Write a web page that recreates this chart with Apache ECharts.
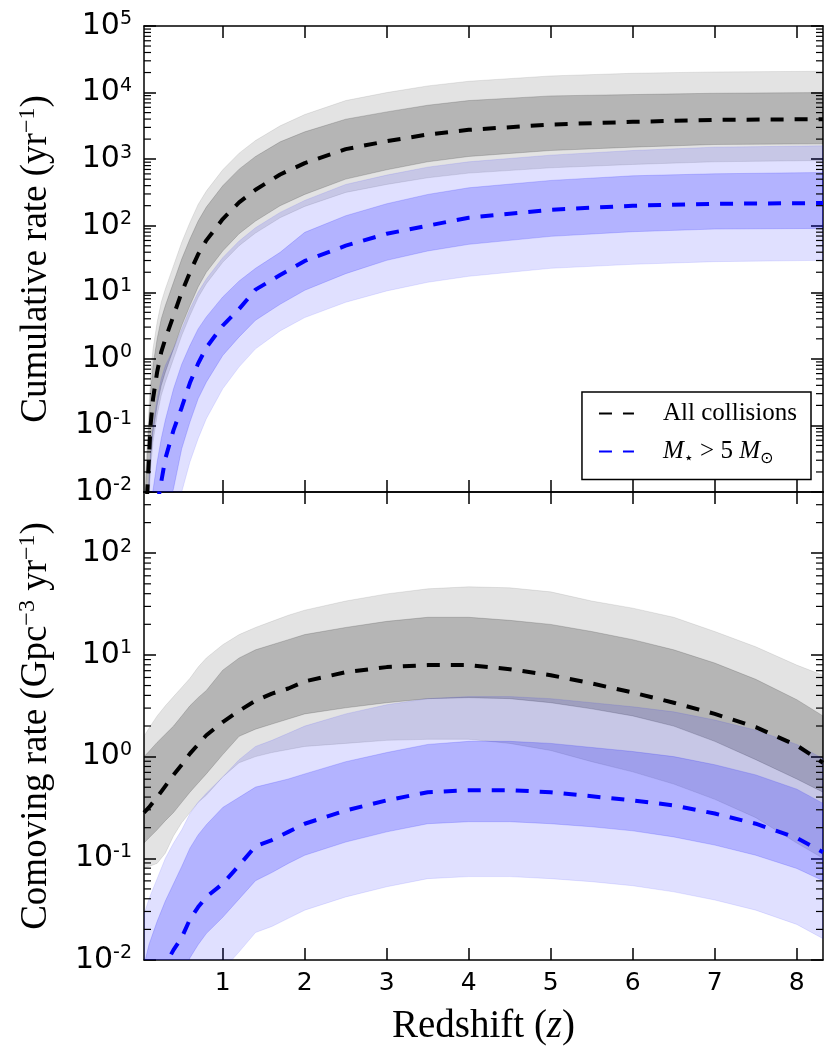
<!DOCTYPE html>
<html>
<head>
<meta charset="utf-8">
<script src="https://cdn.jsdelivr.net/npm/echarts@6/dist/echarts.min.js"></script>
<style>
html, body { margin: 0; padding: 0; background: #fff; }
#chart { width: 836px; height: 1057px; }
</style>
</head>
<body>
<div id="chart"></div>
<script>

// top panel: cumulative rate (yr^-1)
var zTop = [0.04, 0.08, 0.1, 0.12, 0.15, 0.2, 0.25, 0.3, 0.4, 0.5, 0.6, 0.7, 0.8, 1.0, 1.2, 1.4, 1.7, 2.0, 2.5, 3.0, 3.5, 4.0, 5.0, 6.0, 7.0, 8.32]
var allMedTop     = [-2.8, -2.0, -1.5, -1.0, -0.6, -0.2, 0.1, 0.3, 0.65, 1.0, 1.3, 1.57, 1.78, 2.1, 2.35, 2.54, 2.77, 2.94, 3.15, 3.27, 3.37, 3.44, 3.52, 3.56, 3.59, 3.6]
var allDarkHiTop  = [-2.3, -1.5, -1.0, -0.5, -0.1, 0.3, 0.6, 0.8, 1.15, 1.5, 1.8, 2.07, 2.28, 2.6, 2.85, 3.04, 3.26, 3.41, 3.6, 3.71, 3.81, 3.88, 3.95, 3.97, 3.99, 4.0]
var allDarkLoTop  = [-3.3, -2.5, -2.0, -1.5, -1.1, -0.7, -0.4, -0.2, 0.15, 0.5, 0.8, 1.08, 1.3, 1.62, 1.88, 2.07, 2.3, 2.47, 2.7, 2.84, 2.96, 3.04, 3.13, 3.18, 3.22, 3.23]
var allLightHiTop = [-2.05, -1.25, -0.75, -0.25, 0.15, 0.55, 0.85, 1.05, 1.4, 1.75, 2.05, 2.32, 2.52, 2.84, 3.09, 3.28, 3.5, 3.67, 3.88, 4.0, 4.1, 4.17, 4.25, 4.29, 4.31, 4.32]
var allLightLoTop = [-3.45, -2.65, -2.15, -1.65, -1.25, -0.85, -0.55, -0.35, 0.0, 0.35, 0.65, 0.92, 1.13, 1.45, 1.7, 1.89, 2.12, 2.29, 2.5, 2.62, 2.72, 2.79, 2.87, 2.92, 2.96, 2.98]
var bigMedTop     = [-4.7, -3.8, -3.4, -3.0, -2.6, -2.2, -1.85, -1.5, -1.07, -0.73, -0.36, -0.07, 0.17, 0.5, 0.75, 1.04, 1.26, 1.47, 1.7, 1.88, 2.0, 2.12, 2.24, 2.3, 2.33, 2.34]
var bigDarkHiTop  = [-3.2, -2.6, -2.35, -2.15, -1.97, -1.55, -1.2, -0.92, -0.45, -0.08, 0.2, 0.45, 0.63, 0.93, 1.17, 1.36, 1.6, 1.9, 2.15, 2.33, 2.47, 2.57, 2.68, 2.75, 2.78, 2.8]
var bigDarkLoTop  = [-6.2, -5.3, -4.9, -4.5, -4.0, -3.3, -2.8, -2.4, -1.95, -1.35, -0.95, -0.6, -0.35, 0.05, 0.33, 0.58, 0.82, 1.03, 1.28, 1.48, 1.62, 1.72, 1.84, 1.91, 1.95, 1.96]
var bigLightHiTop = [-2.8, -2.2, -1.8, -1.4, -1.0, -0.6, -0.3, -0.1, 0.15, 0.45, 0.75, 1.0, 1.2, 1.52, 1.77, 1.97, 2.2, 2.38, 2.62, 2.76, 2.88, 2.96, 3.06, 3.13, 3.18, 3.2]
var bigLightLoTop = [-7.2, -6.3, -5.8, -5.3, -4.7, -4.0, -3.5, -3.1, -2.7, -2.0, -1.55, -1.2, -0.9, -0.45, -0.12, 0.15, 0.42, 0.62, 0.85, 1.02, 1.15, 1.24, 1.36, 1.42, 1.46, 1.48]

// bottom panel: comoving rate (Gpc^-3 yr^-1)
var zBot = [0.04, 0.1, 0.2, 0.3, 0.4, 0.5, 0.6, 0.7, 0.8, 1.0, 1.2, 1.4, 1.6, 1.8, 2.0, 2.5, 3.0, 3.5, 4.0, 4.5, 5.0, 5.5, 6.0, 6.5, 7.0, 7.5, 8.0, 8.32]
var allMedBot     = [-0.55, -0.5, -0.4, -0.29, -0.18, -0.08, 0.03, 0.12, 0.21, 0.34, 0.45, 0.55, 0.62, 0.67, 0.74, 0.83, 0.88, 0.9, 0.9, 0.86, 0.8, 0.72, 0.63, 0.53, 0.42, 0.29, 0.11, -0.06]
var allDarkHiBot  = [0.0, 0.05, 0.14, 0.22, 0.3, 0.4, 0.5, 0.58, 0.65, 0.85, 0.97, 1.05, 1.1, 1.15, 1.2, 1.27, 1.33, 1.37, 1.37, 1.34, 1.3, 1.23, 1.15, 1.05, 0.92, 0.76, 0.56, 0.4]
var allDarkLoBot  = [-0.85, -0.8, -0.72, -0.63, -0.55, -0.45, -0.35, -0.26, -0.17, 0.02, 0.2, 0.27, 0.32, 0.37, 0.42, 0.48, 0.53, 0.57, 0.58, 0.57, 0.53, 0.47, 0.4, 0.3, 0.15, -0.03, -0.22, -0.35]
var allLightHiBot = [0.2, 0.28, 0.4, 0.5, 0.59, 0.68, 0.77, 0.88, 0.97, 1.1, 1.2, 1.27, 1.33, 1.39, 1.44, 1.53, 1.6, 1.65, 1.67, 1.66, 1.62, 1.53, 1.46, 1.37, 1.23, 1.08, 0.9, 0.8]
var allLightLoBot = [-1.1, -1.08, -1.05, -0.95, -0.78, -0.65, -0.55, -0.45, -0.38, -0.2, -0.06, 0.0, 0.04, 0.07, 0.1, 0.13, 0.16, 0.17, 0.17, 0.13, 0.06, -0.05, -0.15, -0.27, -0.42, -0.6, -0.85, -1.0]
var bigMedBot     = [-2.6, -2.45, -2.25, -2.05, -1.9, -1.78, -1.6, -1.48, -1.38, -1.25, -1.07, -0.88, -0.82, -0.74, -0.66, -0.53, -0.43, -0.35, -0.33, -0.33, -0.35, -0.39, -0.43, -0.48, -0.56, -0.66, -0.8, -0.94]
var bigDarkHiBot  = [-2.05, -1.85, -1.62, -1.42, -1.25, -1.08, -0.9, -0.77, -0.67, -0.5, -0.4, -0.3, -0.26, -0.22, -0.17, -0.05, 0.04, 0.12, 0.15, 0.15, 0.13, 0.09, 0.05, 0.0, -0.08, -0.18, -0.32, -0.46]
var bigDarkLoBot  = [-3.0, -2.85, -2.65, -2.45, -2.3, -2.15, -1.98, -1.85, -1.74, -1.58, -1.4, -1.22, -1.14, -1.05, -0.97, -0.84, -0.74, -0.66, -0.64, -0.64, -0.66, -0.69, -0.73, -0.79, -0.87, -0.97, -1.1, -1.22]
var bigLightHiBot = [-1.55, -1.4, -1.2, -1.0, -0.85, -0.72, -0.56, -0.45, -0.36, -0.2, -0.03, 0.1, 0.16, 0.23, 0.3, 0.42, 0.51, 0.57, 0.59, 0.59, 0.57, 0.53, 0.49, 0.44, 0.36, 0.26, 0.12, -0.02]
var bigLightLoBot = [-3.5, -3.35, -3.15, -2.95, -2.8, -2.66, -2.48, -2.36, -2.25, -2.1, -1.92, -1.73, -1.67, -1.59, -1.51, -1.38, -1.28, -1.2, -1.18, -1.18, -1.2, -1.23, -1.27, -1.33, -1.41, -1.51, -1.65, -1.79]

var xTicks = [1, 2, 3, 4, 5, 6, 7, 8]
var allName = 'All collisions'
var bigName = 'M⋆ > 5 M⊙'

var serif = 'Liberation Serif'
var sans = 'DejaVu Sans'

function pairs(z, e) {
    var out = []
    for (var i = 0; i < z.length; i++) out.push([z[i], Math.pow(10, e[i])])
    return out
}

// filled band between two curves, drawn as one polygon through the axes' scales
function band(ax, z, lo, hi, color) {
    var data = []
    for (var i = 0; i < z.length; i++) data.push([z[i], Math.pow(10, lo[i]), Math.pow(10, hi[i])])
    return {
        type: 'custom', xAxisIndex: ax, yAxisIndex: ax, silent: true, clip: true,
        encode: {x: 0, y: [1, 2]},
        data: data,
        renderItem: function (params, api) {
            if (params.dataIndex !== 0) return
            var upper = [], lower = []
            for (var i = 0; i < data.length; i++) {
                upper.push(api.coord([data[i][0], data[i][2]]))
                lower.unshift(api.coord([data[i][0], data[i][1]]))
            }
            return {
                type: 'polygon',
                shape: {points: upper.concat(lower)},
                style: {fill: color, stroke: color, lineWidth: 0.8}
            }
        }
    }
}

function median(name, ax, z, e, color) {
    return {
        name: name, type: 'line', xAxisIndex: ax, yAxisIndex: ax,
        data: pairs(z, e), symbol: 'none', z: 5,
        itemStyle: {color: color},
        lineStyle: {color: color, width: 4, type: [13, 11]}
    }
}

// minor ticks at 2..9 x 10^n, as matplotlib puts them on a log axis
function minorValues(lo, hi, max) {
    var out = []
    for (var e = lo; e < hi; e++) {
        for (var k = 2; k < 10; k++) {
            var v = k * Math.pow(10, e)
            if (v < max) out.push([1, v])
        }
    }
    return out
}

function minorTicks(ax, data) {
    return {
        type: 'custom', xAxisIndex: ax, yAxisIndex: ax, silent: true, z: 10,
        data: data,
        renderItem: function (params, api) {
            var y = api.coord([1, api.value(1)])[1]
            var cs = params.coordSys
            var st = {stroke: '#000', lineWidth: 1.2}
            return {
                type: 'group', children: [
                    {type: 'line', shape: {x1: cs.x, y1: y, x2: cs.x + 7, y2: y}, style: st},
                    {type: 'line', shape: {x1: cs.x + cs.width - 7, y1: y, x2: cs.x + cs.width, y2: y}, style: st}
                ]
            }
        }
    }
}

function logLabel(v) {
    var l = Math.log10(v)
    var e = Math.round(l)
    if (Math.abs(l - e) > 1e-6) return ''
    return '{b|10}{s|' + e + '}'
}

var axisLineStyle = {color: '#000', width: 1.5}

function xAx(grid, pos, withLabels) {
    return {
        type: 'value', gridIndex: grid, position: pos, min: 0.04, max: 8.32,
        splitLine: {show: false},
        axisLine: {show: true, onZero: false, lineStyle: axisLineStyle},
        axisTick: {show: true, inside: true, length: 12, customValues: xTicks, lineStyle: axisLineStyle},
        axisLabel: {show: withLabels, customValues: xTicks, margin: 11, fontSize: 25, fontFamily: sans, color: '#000'}
    }
}

function yAx(grid, pos, max, split, withLabels) {
    return {
        type: 'log', logBase: 10, gridIndex: grid, position: pos, min: 0.01, max: max, splitNumber: split,
        splitLine: {show: false},
        axisLine: {show: true, onZero: false, lineStyle: axisLineStyle},
        axisTick: {show: true, inside: true, length: 12, lineStyle: axisLineStyle},
        axisLabel: {
            show: withLabels, margin: 12, formatter: logLabel,
            rich: {
                b: {fontSize: 30, fontFamily: sans, color: '#000', lineHeight: 32},
                s: {fontSize: 19, fontFamily: sans, color: '#000', lineHeight: 17, verticalAlign: 'top'}
            }
        }
    }
}

var nameRich = {
    t: {fontSize: 37, fontFamily: serif, color: '#000', lineHeight: 40},
    s: {fontSize: 24, fontFamily: serif, color: '#000', lineHeight: 22, verticalAlign: 'top'},
    i: {fontSize: 37, fontFamily: serif, fontStyle: 'italic', color: '#000', lineHeight: 40}
}

var xAxes = [xAx(0, 'bottom', false), xAx(0, 'top', false), xAx(1, 'bottom', true), xAx(1, 'top', false)]
xAxes[2].name = '{t|Redshift (}{i|z}{t|)}'
xAxes[2].nameLocation = 'middle'
xAxes[2].nameGap = 46
xAxes[2].nameTextStyle = {
    rich: {
        t: {fontSize: 39, fontFamily: serif, color: '#000', lineHeight: 42},
        i: {fontSize: 39, fontFamily: serif, fontStyle: 'italic', color: '#000', lineHeight: 42}
    }
}

var yAxes = [yAx(0, 'left', 1e5, 7, true), yAx(0, 'right', 1e5, 7, false), yAx(1, 'left', 400, 5, true), yAx(1, 'right', 400, 5, false)]
yAxes[0].name = '{t|Cumulative rate (yr}{s|−1}{t|)}'
yAxes[2].name = '{t|Comoving rate (Gpc}{s|−3}{t| yr}{s|−1}{t|)}'
;[0, 2].forEach(function (i) {
    yAxes[i].nameLocation = 'middle'
    yAxes[i].nameRotate = 90
    yAxes[i].nameGap = 88
    yAxes[i].nameTextStyle = {rich: nameRich}
})

var grayLight = 'rgba(0,0,0,0.11)'
var grayDark = 'rgba(0,0,0,0.2)'
var blueLight = 'rgba(0,0,255,0.12)'
var blueDark = 'rgba(0,0,255,0.2)'

var series = [
    band(0, zTop, allLightLoTop, allLightHiTop, grayLight),
    band(0, zTop, allDarkLoTop, allDarkHiTop, grayDark),
    band(0, zTop, bigLightLoTop, bigLightHiTop, blueLight),
    band(0, zTop, bigDarkLoTop, bigDarkHiTop, blueDark),
    median(allName, 0, zTop, allMedTop, '#000'),
    median(bigName, 0, zTop, bigMedTop, '#0000ff'),
    band(2, zBot, allLightLoBot, allLightHiBot, grayLight),
    band(2, zBot, allDarkLoBot, allDarkHiBot, grayDark),
    band(2, zBot, bigLightLoBot, bigLightHiBot, blueLight),
    band(2, zBot, bigDarkLoBot, bigDarkHiBot, blueDark),
    median(allName, 2, zBot, allMedBot, '#000'),
    median(bigName, 2, zBot, bigMedBot, '#0000ff'),
    minorTicks(0, minorValues(-2, 5, 1e5)),
    minorTicks(2, minorValues(-2, 3, 400))
]

var myChart = echarts.init(document.getElementById('chart'))
var option = {
    animation: false,
    backgroundColor: '#fff',
    grid: [
        {left: 144, right: 13, top: 26, height: 466},
        {left: 144, right: 13, top: 492, height: 468}
    ],
    legend: {
        data: [allName, bigName],
        orient: 'vertical',
        right: 25, top: 392,
        padding: [9, 14, 13, 16],
        itemGap: 13,
        itemWidth: 35, itemHeight: 14,
        backgroundColor: '#fff',
        borderColor: '#000', borderWidth: 1.5, borderRadius: 0,
        selectedMode: false,
        itemStyle: {opacity: 0},
        formatter: function (name) {
            if (name === bigName) return '{m|M}{s|⋆}{t| > 5 }{m|M}{s|⊙}'
            return '{t|' + name + '}'
        },
        textStyle: {
            fontFamily: serif, fontSize: 25, color: '#000', padding: [0, 0, 0, 24],
            rich: {
                t: {fontFamily: serif, fontSize: 25, color: '#000', lineHeight: 30},
                m: {fontFamily: serif, fontSize: 25, fontStyle: 'italic', color: '#000', lineHeight: 30},
                s: {fontFamily: 'DejaVu Sans', fontSize: 16, color: '#000', lineHeight: 16, verticalAlign: 'bottom'}
            }
        }
    },
    xAxis: xAxes,
    yAxis: yAxes,
    series: series
}
myChart.setOption(option)
</script>
</body>
</html>
